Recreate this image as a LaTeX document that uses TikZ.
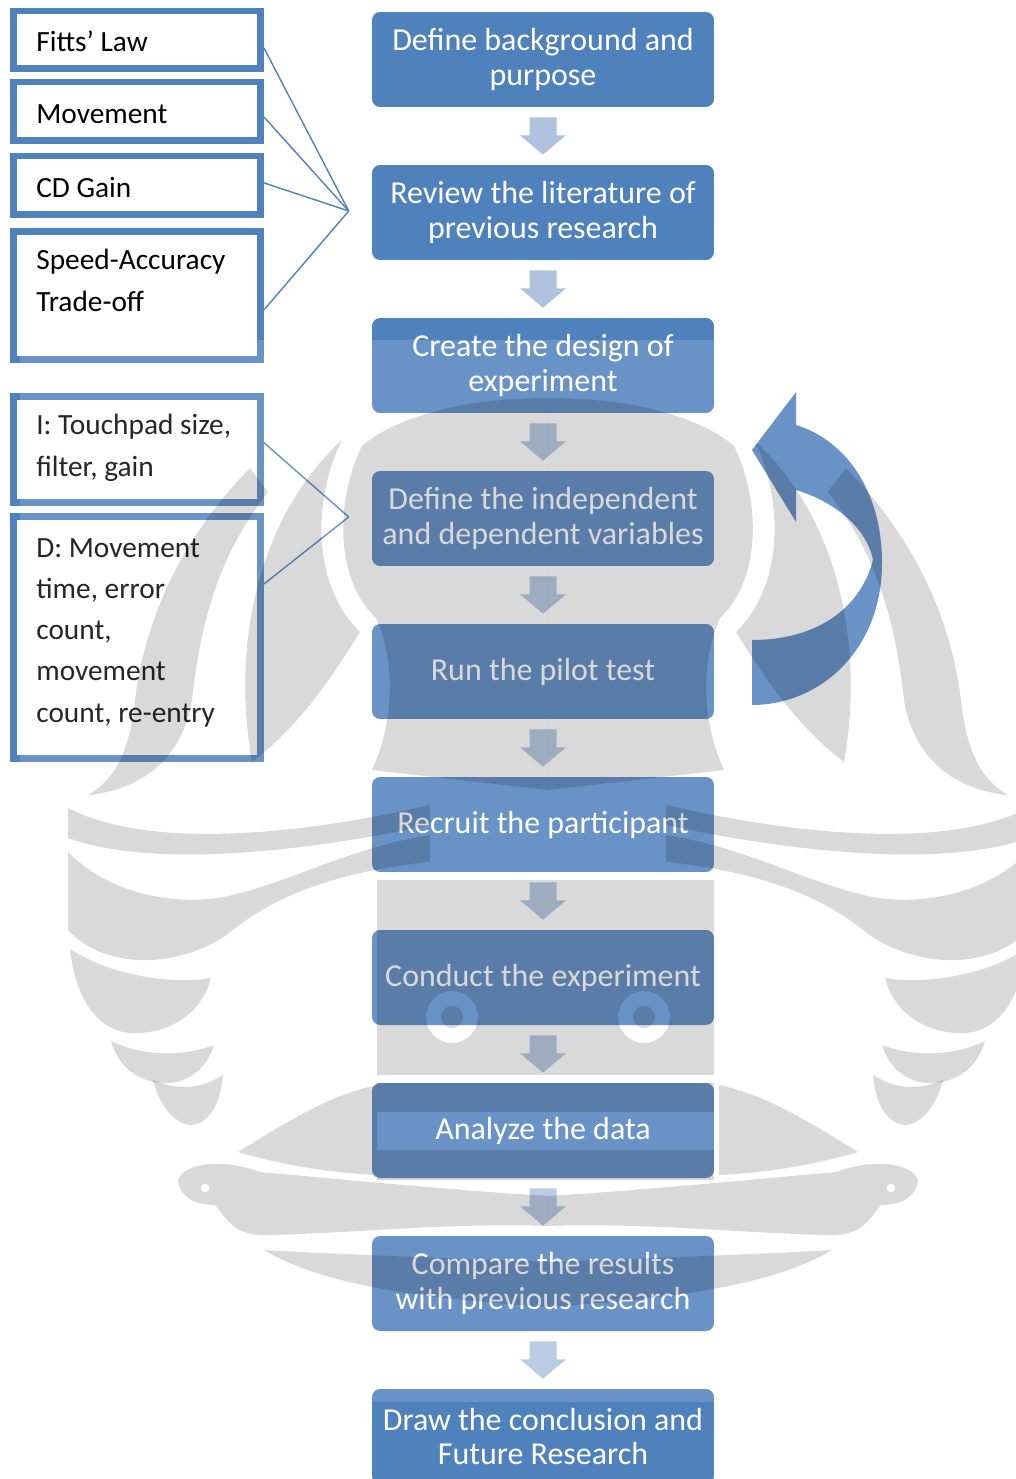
\documentclass[tikz,border=0pt]{standalone}
\usepackage{fontspec}
\setmainfont{Carlito}
\usetikzlibrary{calc}
\definecolor{ublue}{HTML}{4F81BD}
\definecolor{arrc}{HTML}{AFC3DE}
\newcommand{\ltxt}[1]{\parbox[t]{4.6cm}{\raggedright\fontsize{16.7}{23.5}\selectfont #1}}
\newcommand{\wmhalf}{%
  % head, inner part
  \fill[wmg] (548,398) .. controls (460,398) and (395,418) .. (362,446) .. controls (335,500) and (335,580) .. (376,618) .. controls (395,660) and (395,720) .. (372,770) -- (548,790) -- cycle;
  % head, outer crescent
  \fill[wmg] (342,440) .. controls (312,500) and (312,585) .. (360,632) .. controls (330,680) and (300,725) .. (252,762) .. controls (232,650) and (255,520) .. (342,440) -- cycle;
  % upper wing band
  \fill[wmg] (250,468) .. controls (180,540) and (145,620) .. (135,700) .. controls (130,750) and (115,780) .. (88,795) .. controls (140,790) and (182,760) .. (192,700) .. controls (200,630) and (215,560) .. (268,492) -- cycle;
  % middle bands
  \fill[wmg] (68,808) .. controls (150,850) and (300,835) .. (430,805) -- (430,825) .. controls (300,853) and (150,868) .. (68,838) -- cycle;
  \fill[wmg] (68,852) .. controls (110,895) and (180,908) .. (233,895) .. controls (300,878) and (350,848) .. (430,835) -- (430,862) .. controls (330,872) and (270,900) .. (233,930) .. controls (190,965) and (110,975) .. (68,930) -- cycle;
  % feathers
  \fill[wmg] (70,949) .. controls (110,975) and (170,985) .. (211,978) .. controls (200,1020) and (160,1035) .. (130,1033) .. controls (95,1030) and (75,995) .. (70,949) -- cycle;
  \fill[wmg] (111,1041) .. controls (140,1055) and (180,1058) .. (214,1045) .. controls (205,1075) and (180,1085) .. (160,1083) .. controls (135,1080) and (118,1065) .. (111,1041) -- cycle;
  \fill[wmg] (153,1080) .. controls (175,1090) and (200,1090) .. (223,1075) .. controls (220,1110) and (205,1125) .. (190,1125) .. controls (170,1122) and (158,1100) .. (153,1080) -- cycle;
  % leaf
  \fill[wmg] (238,1152) .. controls (290,1120) and (330,1095) .. (377,1085) -- (377,1175) .. controls (320,1172) and (280,1164) .. (238,1152) -- cycle;
  % swirl with curl
  \fill[wmg, even odd rule] (178,1180) .. controls (185,1160) and (230,1160) .. (260,1172) .. controls (350,1180) and (450,1190) .. (548,1196) -- (548,1226) .. controls (450,1222) and (330,1235) .. (260,1235) .. controls (230,1233) and (225,1215) .. (215,1205) .. controls (200,1205) and (180,1200) .. (178,1180) -- cycle (205,1188) circle[radius=0.09cm];
  % lower crescent
  \fill[wmg] (264,1250) .. controls (350,1255) and (450,1258) .. (548,1262) -- (548,1307) .. controls (450,1300) and (330,1290) .. (264,1250) -- cycle;
}
\begin{document}
\begin{tikzpicture}[x=0.02cm, y=-0.02cm,
  flow/.style={rectangle, rounded corners=0.16cm, fill=ublue, text=white,
    minimum width=6.84cm, minimum height=1.9cm, align=center, inner sep=0pt,
    font=\fontsize{18.2}{19.8}\selectfont},
  lbox/.style={rectangle, draw=ublue, line width=0.13cm, fill=white,
    minimum width=4.95cm, inner sep=0pt},
  ltext/.style={anchor=base west, inner sep=0pt, text=black},
  link/.style={draw=ublue, line width=0.028cm},
  darr/.style={fill=arrc},
  wmg/.style={fill=black, fill opacity=0.149}]
\useasboundingbox (0,0) rectangle (1015,1479);
\fill[white] (0,0) rectangle (1015,1479);
% flow boxes
\node[flow] (b1) at (543,59.5) {Define background and\\purpose};
\node[flow] (b2) at (543,212.5) {Review the literature of\\previous research};
\node[flow] (b3) at (543,365.5) {Create the design of\\experiment};
\node[flow] (b4) at (543,518.5) {Define the independent\\and dependent variables};
\node[flow] (b5) at (543,671.5) {Run the pilot test};
\node[flow] (b6) at (543,824.5) {Recruit the participant};
\node[flow] (b7) at (543,977.5) {Conduct the experiment};
\node[flow] (b8) at (543,1130.5) {Analyze the data};
\node[flow] (b9) at (543,1283.5) {Compare the results\\with previous research};
\node[flow] (b10) at (543,1436.5) {Draw the conclusion and\\Future Research};
% block arrows
\foreach \a/\b in {b1/b2,b2/b3,b3/b4,b4/b5,b5/b6,b6/b7,b7/b8,b8/b9,b9/b10}{
  \fill[darr] ($(\a.south)+(-13.5,10)$) -- ($(\a.south)+(13.5,10)$) -- ($(\a.south)+(13.5,28)$)
    -- ($(\a.south)+(23,28)$) -- ($(\b.north)+(0,-10)$) -- ($(\a.south)+(-23,28)$)
    -- ($(\a.south)+(-13.5,28)$) -- cycle;
}
% left boxes
\node[lbox, minimum height=1.15cm] (fitts) at (137,40) {};
\node[lbox, minimum height=1.17cm] (move) at (137,111.5) {};
\node[lbox, minimum height=1.17cm] (cdg) at (137,185.5) {};
\node[lbox, minimum height=2.57cm] (speed) at (137,295.5) {};
\node[lbox, minimum height=2.13cm] (indep) at (137,449.5) {};
\node[lbox, minimum height=4.85cm] (dep) at (137,637.5) {};
\node[ltext] (tfitts) at (36,52) {\ltxt{Fitts’ Law}};
\node[ltext] (tmove) at (36,124) {\ltxt{Movement}};
\node[ltext] (tcdg) at (36,198) {\ltxt{CD Gain}};
\node[ltext] (tspeed) at (36,270) {\ltxt{Speed-Accuracy\\Trade-off}};
\node[ltext] (tindep) at (36,435) {\ltxt{I: Touchpad size,\\filter, gain}};
\node[ltext] (tdep) at (36,557) {\ltxt{D: Movement\\time, error\\count,\\movement\\count, re-entry}};
% connectors
\coordinate (c1) at ($(b2.west)+(-23,-1.5)$);
\coordinate (c2) at ($(b4.west)+(-23,-1.5)$);
\draw[link] ($(fitts.north east)!0.625!(fitts.south east)$) -- (c1);
\draw[link] ($(move.north east)!0.585!(move.south east)$) -- (c1);
\draw[link] ($(cdg.north east)!0.46!(cdg.south east)$) -- (c1);
\draw[link] ($(speed.north east)!0.607!(speed.south east)$) -- (c1);
\draw[link] ($(indep.north east)!0.44!(indep.south east)$) -- (c2);
\draw[link] ($(dep.north east)!0.285!(dep.south east)$) -- (c2);
% circular arrow
\fill[ublue] (752,705) .. controls (820,705) and (882,650) .. (882,563)
  .. controls (882,490) and (845,440) .. (796,425) -- (796,392) -- (752,450)
  -- (796,522) -- (796,490) .. controls (830,500) and (866,525) .. (873,560)
  .. controls (860,610) and (815,640) .. (752,640) -- cycle;
% watermark
\fill[white, opacity=0.15] (20,340) rectangle (1015,1402);
\wmhalf
\begin{scope}[shift={(1096,0)}, xscale=-1]
  \wmhalf
\end{scope}
\fill[wmg, even odd rule] (377,880) rectangle (714,1075)
  (452,1017) circle[radius=0.52cm] (452,1017) circle[radius=0.22cm]
  (644,1017) circle[radius=0.52cm] (644,1017) circle[radius=0.22cm];
\fill[wmg] (377,1083) rectangle (714,1112);
\fill[wmg] (377,1150) rectangle (714,1180);
\end{tikzpicture}
\end{document}
